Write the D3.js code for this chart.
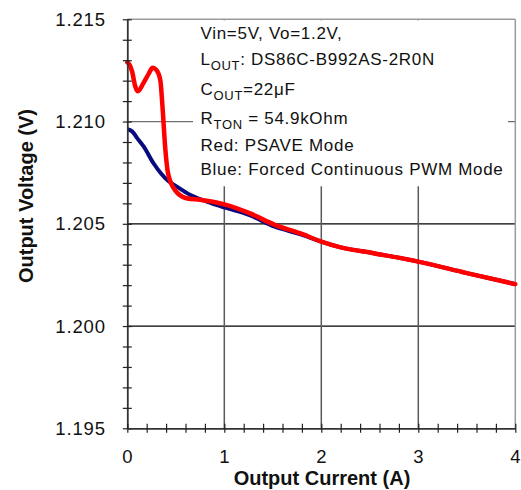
<!DOCTYPE html>
<html>
<head>
<meta charset="utf-8">
<script src="https://cdn.jsdelivr.net/npm/d3@7/dist/d3.min.js"></script>
<style>
  html, body { margin: 0; padding: 0; background: #fff; }
  svg { display: block; font-family: "Liberation Sans", Arial, sans-serif; }
</style>
</head>
<body>
<svg id="chart" width="521" height="490"></svg>
<script>
// ---- data ----
const redCurrent = [0.00, 0.02, 0.05, 0.08, 0.11, 0.165, 0.22, 0.26, 0.30, 0.34, 0.365, 0.39, 0.42, 0.49, 0.61, 0.75, 0.92, 1.0, 1.26, 1.52, 1.78, 2.0, 2.19, 2.54, 3.0, 3.5, 4.0];
const redVoltage = [1.21290, 1.21280, 1.21244, 1.21175, 1.21148, 1.21187, 1.21233, 1.21263, 1.21252, 1.21203, 1.21057, 1.20877, 1.20747, 1.20666, 1.20625, 1.20617, 1.20604, 1.20595, 1.20552, 1.20495, 1.20454, 1.20413, 1.20386, 1.20356, 1.20315, 1.20259, 1.20205];
const blueCurrent = [0.00, 0.05, 0.10, 0.17, 0.27, 0.35, 0.42, 0.51, 0.65, 0.82, 1.0, 1.26, 1.52, 1.78, 2.0, 2.19, 2.54, 3.0, 3.5, 4.0];
const blueVoltage = [1.20962, 1.20952, 1.20920, 1.20877, 1.20796, 1.20745, 1.20710, 1.20682, 1.20641, 1.20609, 1.20580, 1.20542, 1.20486, 1.20450, 1.20413, 1.20386, 1.20356, 1.20315, 1.20259, 1.20205];
const xTicks = [0, 1, 2, 3, 4];
const yTicks = [1.195, 1.200, 1.205, 1.210, 1.215];
const xTitle = "Output Current (A)";
const yTitle = "Output Voltage (V)";

const svg = d3.select("#chart");
const pLeft = 127.3, pRight = 515.3, pTop = 19.3, pBottom = 428.3;
const x = d3.scaleLinear().domain([0, 4]).range([pLeft, pRight]);
const y = d3.scaleLinear().domain([1.195, 1.215]).range([pBottom, pTop]);

// grid lines
const grid = svg.append("g");
grid.selectAll("line.h").data(yTicks.filter(v => v > 1.195 && v < 1.215)).join("line")
  .attr("x1", pLeft).attr("x2", pRight)
  .attr("y1", d => y(d)).attr("y2", d => y(d))
  .attr("stroke", d => d === 1.210 ? "#6e6e6e" : "#000").attr("stroke-width", 1.2);
grid.selectAll("line.v").data(xTicks.filter(v => v > 0 && v < 4)).join("line")
  .attr("x1", d => x(d)).attr("x2", d => x(d))
  .attr("y1", pTop).attr("y2", pBottom)
  .attr("stroke", "#5a5a5a").attr("stroke-width", 1.5);

// white annotation box covering grid
svg.append("rect").attr("x", 193).attr("y", pTop + 1).attr("width", 315).attr("height", 166).attr("fill", "#fff");

// frame (top/right)
svg.append("line").attr("x1", pLeft).attr("x2", pRight).attr("y1", pTop).attr("y2", pTop).attr("stroke", "#9a9a9a").attr("stroke-width", 1.5);
svg.append("line").attr("x1", pRight).attr("x2", pRight).attr("y1", pTop).attr("y2", pBottom).attr("stroke", "#9a9a9a").attr("stroke-width", 1.5);

// curves
const line = d3.line().x(d => x(d[0])).y(d => y(d[1])).curve(d3.curveMonotoneX);
const blueData = blueCurrent.map((c, i) => [c, blueVoltage[i]]);
const redData = redCurrent.map((c, i) => [c, redVoltage[i]]);
svg.append("path").datum(blueData).attr("d", line).attr("fill", "none")
  .attr("stroke", "#0a0a80").attr("stroke-width", 4).attr("stroke-linejoin", "round");
svg.append("path").datum(redData).attr("d", line).attr("fill", "none")
  .attr("stroke", "#ff0000").attr("stroke-width", 4.5).attr("stroke-linejoin", "round").attr("stroke-linecap", "round");

// axes with crossing ticks
const yAxis = d3.axisLeft(y).tickValues(d3.range(0, 21).map(i => 1.195 + i * 0.001)).tickSize(0).tickFormat("");
const xAxis = d3.axisBottom(x).tickValues(d3.range(0, 21).map(i => i * 0.2)).tickSize(0).tickFormat("");
const ya = svg.append("g").attr("transform", `translate(${pLeft},0)`).call(yAxis);
ya.select(".domain").attr("stroke", "#333").attr("stroke-width", 1.8);
ya.selectAll(".tick line").attr("x1", -4.5).attr("x2", 4.5).attr("stroke", "#222").attr("stroke-width", 1.2);
const xa = svg.append("g").attr("transform", `translate(0,${pBottom})`).call(xAxis);
xa.select(".domain").attr("stroke", "#333").attr("stroke-width", 1.8);
xa.selectAll(".tick line").attr("y1", -4.5).attr("y2", 4.5).attr("stroke", "#222").attr("stroke-width", 1.2);

// tick labels
svg.append("g").selectAll("text").data(yTicks).join("text")
  .attr("x", 106).attr("y", d => y(d)).attr("dy", "0.35em")
  .attr("text-anchor", "end").attr("font-size", 18.5).attr("letter-spacing", 0.9).attr("fill", "#111")
  .text(d => d3.format(".3f")(d));
svg.append("g").selectAll("text").data(xTicks).join("text")
  .attr("x", d => x(d)).attr("y", 463)
  .attr("text-anchor", "middle").attr("font-size", 18.5).attr("fill", "#111")
  .text(d => d);

// titles
svg.append("text").attr("transform", "translate(32.5,196) rotate(-90)")
  .attr("text-anchor", "middle").attr("font-size", 20).attr("font-weight", "bold").attr("fill", "#111")
  .text(yTitle);
svg.append("text").attr("x", 322).attr("y", 485)
  .attr("text-anchor", "middle").attr("font-size", 20).attr("font-weight", "bold").attr("fill", "#111")
  .text(xTitle);

// annotation text
const ann = svg.append("g").attr("font-size", 17).attr("letter-spacing", 0.7).attr("fill", "#111");
const annLines = [
  { y: 39.3, parts: [["Vin=5V, Vo=1.2V,", 0]] },
  { y: 65, parts: [["L", 0], ["OUT", 1], [": DS86C-B992AS-2R0N", 0]] },
  { y: 95, parts: [["C", 0], ["OUT", 1], ["=22\u03BCF", 0]] },
  { y: 124, parts: [["R", 0], ["TON", 1], [" = 54.9kOhm", 0]] },
  { y: 151, parts: [["Red: PSAVE Mode", 0]] },
  { y: 175, parts: [["Blue: Forced Continuous PWM Mode", 0]] }
];
annLines.forEach(l => {
  const t = ann.append("text").attr("x", 200.5).attr("y", l.y);
  l.parts.forEach((p, i) => {
    const ts = t.append("tspan").text(p[0]);
    if (p[1]) ts.attr("font-size", 13).attr("dy", 4.5);
    else if (i > 0 && l.parts[i - 1][1]) ts.attr("dy", -4.5);
  });
});
</script>
</body>
</html>
